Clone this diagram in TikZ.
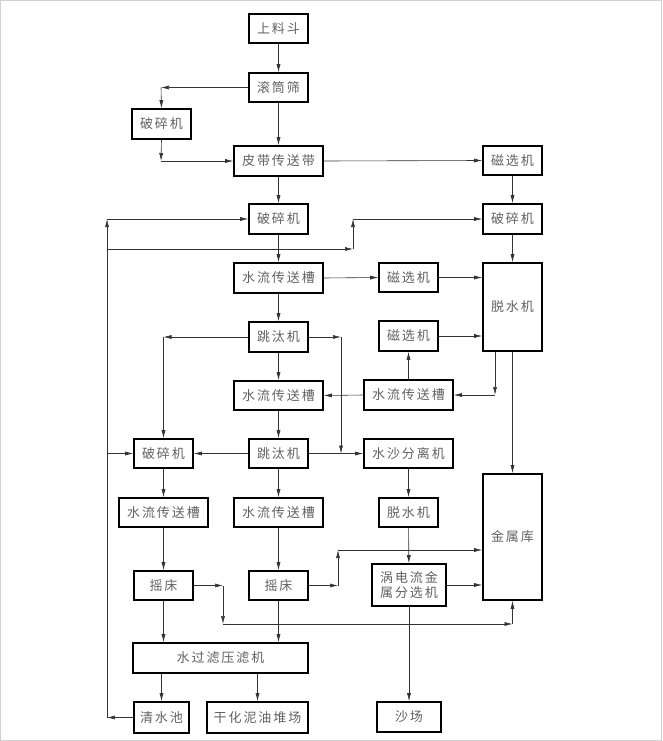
\documentclass[tikz,border=0pt]{standalone}
\usepackage{fontspec}
\newfontfamily\cjk[LetterSpace=15]{Noto Sans CJK SC}
\usetikzlibrary{arrows.meta}
\tikzset{
  bx/.style={draw, line width=1.6pt, inner sep=0pt, align=center,
    font=\cjk\fontsize{13}{15}\selectfont, text=black!62},
  arr/.style={-{Latex[length=8pt,width=4pt]}, line width=0.6pt, draw=black!80},
}
\begin{document}
\begin{tikzpicture}[x=1pt,y=-1pt]
\useasboundingbox (0,0) rectangle (662,741);
\draw[black!18, line width=1.2pt] (0.6,0.6) rectangle (661.4,740.4);
% nodes
\node[bx, minimum width=59pt, minimum height=29pt] (sl)  at (278.5,28.5) {上料斗};
\node[bx, minimum width=59pt, minimum height=29pt] (gts) at (278.5,87.5) {滚筒筛};
\node[bx, minimum width=59pt, minimum height=30pt] (psa) at (161.5,124) {破碎机};
\node[bx, minimum width=89pt, minimum height=30pt] (pd)  at (278.5,161) {皮带传送带};
\node[bx, minimum width=59pt, minimum height=29pt] (cx1) at (512.5,160.5) {磁选机};
\node[bx, minimum width=59pt, minimum height=30pt] (ps2) at (278.5,219) {破碎机};
\node[bx, minimum width=59pt, minimum height=30pt] (ps3) at (512.5,219) {破碎机};
\node[bx, minimum width=89pt, minimum height=30pt] (sl1) at (278.5,278) {水流传送槽};
\node[bx, minimum width=59pt, minimum height=29pt] (cx2) at (408.5,277.5) {磁选机};
\node[bx, minimum width=59pt, minimum height=88pt] (ts1) at (512.5,307) {脱水机};
\node[bx, minimum width=59pt, minimum height=30pt] (tt1) at (278.5,337) {跳汰机};
\node[bx, minimum width=59pt, minimum height=30pt] (cx3) at (408.5,336) {磁选机};
\node[bx, minimum width=89pt, minimum height=29pt] (sl2) at (278.5,395.5) {水流传送槽};
\node[bx, minimum width=89pt, minimum height=30pt] (sl3) at (408.5,395) {水流传送槽};
\node[bx, minimum width=59pt, minimum height=29pt] (ps4) at (163.5,453.5) {破碎机};
\node[bx, minimum width=59pt, minimum height=29pt] (tt2) at (278.5,453.5) {跳汰机};
\node[bx, minimum width=89pt, minimum height=29pt] (ssf) at (408.5,453.5) {水沙分离机};
\node[bx, minimum width=89pt, minimum height=29pt] (sl4) at (163.5,512.5) {水流传送槽};
\node[bx, minimum width=89pt, minimum height=29pt] (sl5) at (278.5,512.5) {水流传送槽};
\node[bx, minimum width=59pt, minimum height=29pt] (ts2) at (408.5,512.5) {脱水机};
\node[bx, minimum width=59pt, minimum height=126pt] (jsk) at (512.5,537) {金属库};
\node[bx, minimum width=59pt, minimum height=29pt] (yc1) at (163.5,585.5) {摇床};
\node[bx, minimum width=59pt, minimum height=29pt] (yc2) at (278.5,585.5) {摇床};
\node[bx, minimum width=74pt, minimum height=42pt] (wdl) at (409,585) {涡电流金\\属分选机};
\node[bx, minimum width=175pt, minimum height=30pt] (slj) at (220.5,658) {水过滤压滤机};
\node[bx, minimum width=55pt, minimum height=31pt] (qsc) at (161.5,717.5) {清水池};
\node[bx, minimum width=101pt, minimum height=31pt] (ghn) at (257.5,717.5) {干化泥油堆场};
\node[bx, minimum width=64pt, minimum height=30pt] (sc)  at (409,717) {沙场};
% coordinates
\coordinate (c1) at (161,87.5);
\coordinate (c2) at (161,161);
\coordinate (wL) at (107,717.5);
\coordinate (wT) at (107,219);
\coordinate (wM) at (107,249);
\coordinate (wB) at (107,453.5);
\coordinate (r1) at (353,249);
\coordinate (r2) at (353,219);
\coordinate (j1) at (163.5,337);
\coordinate (j2) at (341,337);
\coordinate (j3) at (341,453.5);
\coordinate (d1) at (495,395);
\coordinate (y1) at (223,585.5);
\coordinate (y2) at (223,624);
\coordinate (y3) at (512.5,624);
\coordinate (z1) at (338,585.5);
\coordinate (z2) at (338,550);
% connectors
\draw[arr] (sl) -- (gts);
\draw[arr] (gts.west) -- (c1);
\draw[arr] (c1) -- (psa.north);
\draw[arr] (psa.south) -- (c2);
\draw[arr] (c2) -- (pd.west);
\draw[arr] (gts) -- (pd);
\draw[arr] (pd.east) -- (cx1.west);
\draw[arr] (pd) -- (ps2);
\draw[arr] (cx1) -- (ps3);
\draw[arr] (ps3) -- (ts1);
% water return line
\draw[arr] (qsc.west) -- (wL);
\draw[arr] (wL) -- (wT);
\draw[arr] (wT) -- (ps2.west);
\draw[arr] (wM) -- (r1);
\draw[arr] (r1) -- (r2);
\draw[arr] (r2) -- (ps3.west);
\draw[arr] (wB) -- (ps4.west);
% middle flow
\draw[arr] (ps2) -- (sl1);
\draw[arr] (sl1.east) -- (cx2.west);
\draw[arr] (cx2.east) -- (cx2.east -| ts1.west);
\draw[arr] (sl1) -- (tt1);
\draw[arr] (tt1.west) -- (j1);
\draw[arr] (j1) -- (ps4.north);
\draw[arr] (tt1.east) -- (j2);
\draw[arr] (j2) -- (j3);
\draw[arr] (tt1) -- (sl2);
\draw[arr] (sl3.west) -- (sl2.east);
\draw[arr] (ts1.south -| d1) -- (d1);
\draw[arr] (d1) -- (sl3.east);
\draw[arr] (sl3.north) -- (cx3.south);
\draw[arr] (cx3.east) -- (cx3.east -| ts1.west);
\draw[arr] (ts1) -- (jsk);
\draw[arr] (sl2) -- (tt2);
\draw[arr] (tt2.west) -- (ps4.east);
\draw[arr] (tt2.east) -- (ssf.west);
\draw[arr] (ps4) -- (sl4);
\draw[arr] (tt2) -- (sl5);
\draw[arr] (sl4) -- (yc1);
\draw[arr] (sl5) -- (yc2);
\draw[arr] (ssf) -- (ts2);
\draw[arr] (ts2) -- (wdl);
\draw[arr] (wdl.east) -- (wdl.east -| jsk.west);
\draw[arr] (wdl) -- (sc);
\draw[arr] (yc1.east) -- (y1);
\draw[arr] (y1) -- (y2);
\draw[arr] (y2) -- (y3);
\draw[arr] (y3) -- (jsk.south);
\draw[arr] (yc2.east) -- (z1);
\draw[arr] (z1) -- (z2);
\draw[arr] (z2) -- (z2 -| jsk.west);
\draw[arr] (yc1.south) -- (yc1.south |- slj.north);
\draw[arr] (yc2.south) -- (yc2.south |- slj.north);
\draw[arr] (qsc.north |- slj.south) -- (qsc.north);
\draw[arr] (ghn.north |- slj.south) -- (ghn.north);
\end{tikzpicture}
\end{document}
